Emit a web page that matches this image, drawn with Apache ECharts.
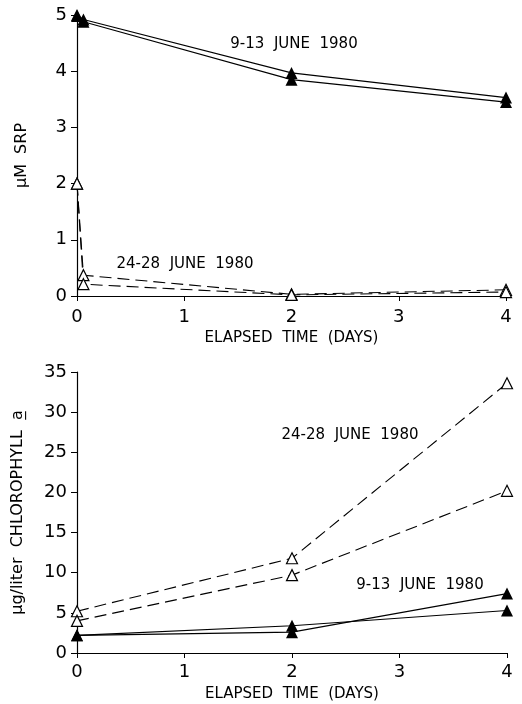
<!DOCTYPE html>
<html>
<head>
<meta charset="utf-8">
<script src="https://cdn.jsdelivr.net/npm/echarts@6/dist/echarts.min.js"></script>
<style>html,body{margin:0;padding:0;background:#fff;}#c{width:522px;height:704px;}</style>
</head>
<body>
<div id="c"></div>
<script>
// Top panel: µM SRP vs elapsed time (days)
const srpJune9A = [[0, 5.0], [0.06, 4.92], [2, 3.97], [4, 3.53]];
const srpJune9B = [[0, 4.98], [0.06, 4.88], [2, 3.85], [4, 3.45]];
const srpJune24A = [[0, 2.0], [0.06, 0.37], [2, 0.03], [4, 0.11]];
const srpJune24B = [[0, 2.0], [0.06, 0.21], [2, 0.02], [4, 0.07]];
// Bottom panel: µg/liter chlorophyll a vs elapsed time (days)
const chlJune24A = [[0, 5.2], [2, 11.8], [4, 33.6]];
const chlJune24B = [[0, 4.0], [2, 9.7], [4, 20.2]];
const chlJune9A = [[0, 2.2], [2, 2.6], [4, 7.4]];
const chlJune9B = [[0, 2.2], [2, 3.4], [4, 5.3]];

const xLabel = 'ELAPSED  TIME  (DAYS)';
const topYLabel = 'µM  SRP';
const botYLabel = 'µg/liter  CHLOROPHYLL  a\u0332';
const lab9 = '9-13  JUNE  1980';
const lab24 = '24-28  JUNE  1980';

const FONT = 'DejaVu Sans';
const chart = echarts.init(document.getElementById('c'), null, {renderer: 'canvas'});

function xAx(gi, gap, margin) {
  return {
    type: 'value', gridIndex: gi, min: 0, max: 4, interval: 1,
    name: xLabel, nameLocation: 'middle', nameGap: gap,
    nameTextStyle: {color: '#000', fontFamily: FONT, fontSize: 15},
    axisLine: {lineStyle: {color: '#000', width: 1.2}},
    axisTick: {inside: false, length: 5, lineStyle: {color: '#000'}},
    axisLabel: {color: '#000', fontFamily: FONT, fontSize: 18, margin: margin},
    splitLine: {show: false}
  };
}
function yAx(gi, max, interval, name, gap, fs) {
  return {
    type: 'value', gridIndex: gi, min: 0, max: max, interval: interval,
    name: name, nameLocation: 'middle', nameGap: gap, nameRotate: 90,
    nameTextStyle: {color: '#000', fontFamily: FONT, fontSize: fs},
    axisLine: {show: true, lineStyle: {color: '#000', width: 1.2}},
    axisTick: {show: true, length: 6, lineStyle: {color: '#000'}},
    axisLabel: {color: '#000', fontFamily: FONT, fontSize: 18, margin: 10},
    splitLine: {show: false}
  };
}
function ser(data, gi, filled, dashed) {
  return {
    type: 'line', xAxisIndex: gi, yAxisIndex: gi, data: data,
    symbol: 'triangle', symbolSize: filled ? 12 : 11,
    itemStyle: {color: filled ? '#000' : '#fff', borderColor: '#000', borderWidth: filled ? 0 : 1.2},
    lineStyle: {color: '#000', width: 1.1, type: dashed ? [12, 6] : 'solid'},
    animation: false, z: filled ? 3 : 2
  };
}

chart.setOption({
  backgroundColor: '#fff',
  animation: false,
  grid: [
    {left: 77, right: 16, top: 15, height: 281},
    {left: 77, right: 15, top: 372, height: 281}
  ],
  xAxis: [xAx(0, 35, 12), xAx(1, 34, 10)],
  yAxis: [yAx(0, 5, 1, topYLabel, 47, 16), yAx(1, 35, 5, botYLabel, 51, 16)],
  series: [
    ser(srpJune9A, 0, true, false),
    ser(srpJune9B, 0, true, false),
    ser(srpJune24A, 0, false, true),
    ser(srpJune24B, 0, false, true),
    ser(chlJune24A, 1, false, true),
    ser(chlJune24B, 1, false, true),
    ser(chlJune9A, 1, true, false),
    ser(chlJune9B, 1, true, false)
  ],
  graphic: [
    {type: 'text', x: 294, y: 44, style: {text: lab9, fill: '#000', font: '15px "DejaVu Sans"', align: 'center', verticalAlign: 'middle'}},
    {type: 'text', x: 185, y: 264, style: {text: lab24, fill: '#000', font: '15px "DejaVu Sans"', align: 'center', verticalAlign: 'middle'}},
    {type: 'text', x: 350, y: 435, style: {text: lab24, fill: '#000', font: '15px "DejaVu Sans"', align: 'center', verticalAlign: 'middle'}},
    {type: 'text', x: 420, y: 585, style: {text: lab9, fill: '#000', font: '15px "DejaVu Sans"', align: 'center', verticalAlign: 'middle'}}
  ]
});
</script>
</body>
</html>
